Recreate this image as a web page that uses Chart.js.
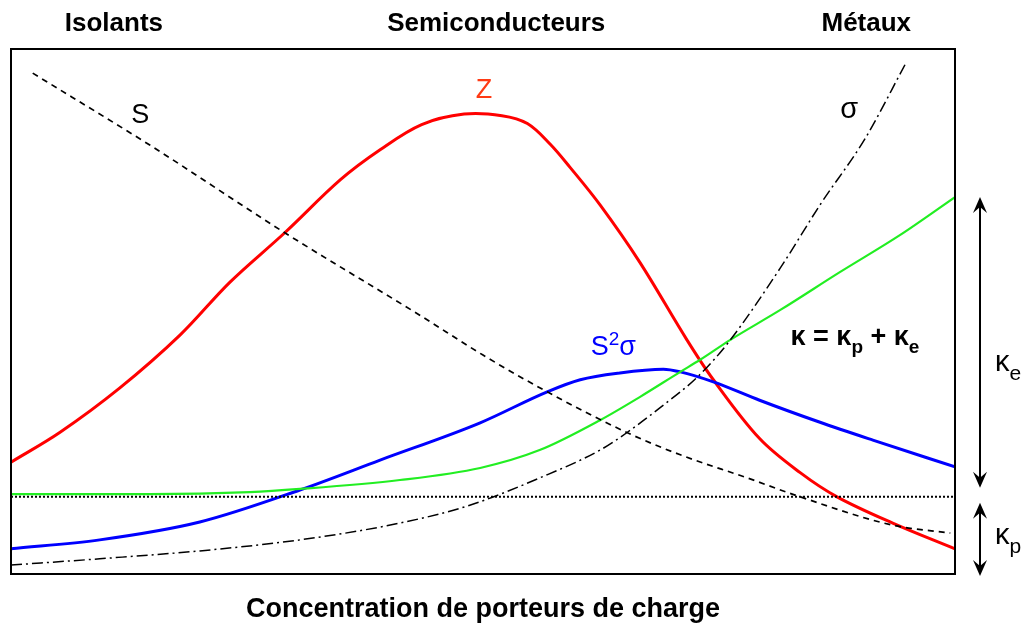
<!DOCTYPE html>
<html>
<head>
<meta charset="utf-8">
<script src="https://cdn.jsdelivr.net/npm/chart.js@4/dist/chart.umd.min.js"></script>
<style>
  html, body { margin: 0; padding: 0; background: #fff; }
  #wrap { width: 1027px; height: 627px; position: relative; }
</style>
</head>
<body>
<div id="wrap"><canvas id="c"></canvas></div>
<script>
// Thermoelectric properties vs carrier concentration (schematic).
// X = concentration (0..100 arbitrary), Y = arbitrary magnitude (0..100).

const REGIONS = ['Isolants', 'Semiconducteurs', 'Métaux'];
const X_TITLE = 'Concentration de porteurs de charge';

// Seebeck coefficient S (dashed)
const S_X = [2.3, 14.7, 29.0, 43.3, 50.0, 56.8, 65.3, 70.9, 78.0, 83.6, 93.4, 99.5];
const S_Y = [95.4, 81.7, 65.0, 49.3, 41.7, 34.7, 26.9, 22.7, 18.3, 14.7, 9.3, 7.8];

// Figure of merit Z (red)
const Z_X = [0, 5.2, 11.5, 17.9, 23.2, 29.0, 34.9, 39.1, 43.5, 48.0, 52.0, 54.7, 57.1, 59.2, 62.4, 66.6, 71.6, 74.4, 79.3, 83.6, 87.5, 93.4, 100];
const Z_Y = [21.3, 27.0, 35.4, 45.5, 55.6, 65.0, 75.1, 80.8, 85.6, 87.6, 87.3, 85.8, 81.9, 77.5, 70.3, 59.4, 44.6, 37.0, 25.8, 19.3, 14.7, 9.7, 4.8];

// Electrical conductivity sigma (dash-dot)
const SIG_X = [0, 9.4, 20.0, 30.6, 41.2, 48.6, 56.0, 62.4, 65.3, 68.7, 72.7, 75.9, 81.5, 85.7, 90.5, 94.7];
const SIG_Y = [1.7, 2.9, 4.4, 6.5, 9.7, 13.1, 18.3, 23.6, 27.0, 31.6, 37.5, 43.9, 58.3, 70.3, 83.0, 97.0];

// Power factor S^2 sigma (blue)
const PF_X = [0, 9.4, 20.0, 30.6, 39.1, 49.7, 56.8, 60.3, 64.5, 69.1, 70.9, 74.4, 79.3, 85.7, 91.3, 100];
const PF_Y = [4.8, 6.5, 9.9, 16.0, 21.7, 28.8, 34.7, 37.0, 38.3, 39.0, 38.5, 36.6, 33.1, 28.9, 25.5, 20.4];

// Thermal conductivity kappa = kappa_p + kappa_e (green)
const K_X = [0, 14.7, 25.3, 30.6, 41.2, 49.7, 56.0, 62.4, 66.6, 70.9, 73.0, 76.2, 81.5, 87.8, 94.2, 100];
const K_Y = [15.2, 15.2, 15.6, 16.2, 17.9, 20.2, 23.6, 29.3, 33.7, 38.5, 40.8, 44.6, 50.3, 57.5, 64.6, 71.8];

// Lattice thermal conductivity kappa_p (dotted, constant)
const KP_X = [0, 100];
const KP_Y = [14.7, 14.7];

const pts = (xs, ys) => xs.map((x, i) => ({ x, y: ys[i] }));

function line(xs, ys, color, width, dash, smooth) {
  const ds = {
    data: pts(xs, ys),
    borderColor: color,
    borderWidth: width,
    borderDash: dash || [],
    pointRadius: 0,
    fill: false,
  };
  if (smooth) ds.tension = smooth;
  else ds.cubicInterpolationMode = 'monotone';
  return ds;
}

// Text drawn in data coordinates; parts = [text, 'n'|'sub'|'sup']
const LABELS = [
  { x: 13.7, y: 87.7, color: '#000', bold: false, size: 27, parts: [['S', 'n']] },
  { x: 50.1, y: 92.5, color: '#ff3a14', bold: false, size: 27, parts: [['Z', 'n']] },
  { x: 88.8, y: 88.8, color: '#000', bold: false, size: 29, parts: [['σ', 'n']] },
  { x: 63.8, y: 43.6, color: '#0000ff', bold: false, size: 27, parts: [['S', 'n'], ['2', 'sup'], ['σ', 'n']] },
  { x: 89.4, y: 45.5, color: '#000', bold: true, size: 27,
    parts: [['κ = κ', 'n'], ['p', 'sub'], [' + κ', 'n'], ['e', 'sub']] },
];

function drawParts(ctx, cx, cy, lab) {
  const w = lab.bold ? 'bold ' : '';
  const big = `${w}${lab.size}px "Liberation Sans", Arial, sans-serif`;
  const small = `${w}${Math.round(lab.size * 0.72)}px "Liberation Sans", Arial, sans-serif`;
  let total = 0;
  for (const [t, k] of lab.parts) {
    ctx.font = k === 'n' ? big : small;
    total += ctx.measureText(t).width;
  }
  let x = cx - total / 2;
  ctx.fillStyle = lab.color;
  ctx.textBaseline = 'alphabetic';
  ctx.textAlign = 'left';
  const base = cy + lab.size * 0.36;
  for (const [t, k] of lab.parts) {
    ctx.font = k === 'n' ? big : small;
    let y = base;
    if (k === 'sub') y = base + lab.size * 0.3;
    if (k === 'sup') y = base - lab.size * 0.38;
    ctx.fillText(t, x, y);
    x += ctx.measureText(t).width;
  }
}

function arrow(ctx, x, y1, y2) {
  const h = 16, hw = 7;
  ctx.save();
  ctx.strokeStyle = '#000';
  ctx.fillStyle = '#000';
  ctx.lineWidth = 2;
  ctx.beginPath();
  ctx.moveTo(x, y1 + 6);
  ctx.lineTo(x, y2 - 6);
  ctx.stroke();
  ctx.beginPath();
  ctx.moveTo(x, y1); ctx.lineTo(x - hw, y1 + h); ctx.lineTo(x, y1 + h - 6); ctx.lineTo(x + hw, y1 + h);
  ctx.closePath(); ctx.fill();
  ctx.beginPath();
  ctx.moveTo(x, y2); ctx.lineTo(x - hw, y2 - h); ctx.lineTo(x, y2 - h + 6); ctx.lineTo(x + hw, y2 - h);
  ctx.closePath(); ctx.fill();
  ctx.restore();
}

const decor = {
  id: 'decor',
  afterDraw(chart) {
    const { ctx, chartArea: a, scales: { x, y } } = chart;
    ctx.save();
    // frame
    ctx.strokeStyle = '#000';
    ctx.lineWidth = 2;
    ctx.strokeRect(a.left, a.top, a.right - a.left, a.bottom - a.top);

    // region headings
    ctx.fillStyle = '#000';
    ctx.textBaseline = 'middle';
    ctx.textAlign = 'center';
    ctx.font = 'bold 26px "Liberation Sans", Arial, sans-serif';
    const hx = [10.9, 51.4, 90.6];
    REGIONS.forEach((t, i) => ctx.fillText(t, x.getPixelForValue(hx[i]), 24));
    ctx.font = 'bold 27px "Liberation Sans", Arial, sans-serif';
    ctx.fillText(X_TITLE, x.getPixelForValue(50), 610);

    LABELS.forEach(l => drawParts(ctx, x.getPixelForValue(l.x), y.getPixelForValue(l.y), l));

    // kappa_e / kappa_p arrows on the right
    const ax = a.right + 25;
    const yTop = y.getPixelForValue(K_Y[K_Y.length - 1]);
    const yMid = y.getPixelForValue(KP_Y[0]);
    arrow(ctx, ax, yTop, yMid - 9);
    arrow(ctx, ax, yMid + 6, a.bottom + 2);
    drawParts(ctx, ax + 28, (yTop + yMid) / 2 + 14, { color: '#000', bold: false, size: 29, parts: [['κ', 'n'], ['e', 'sub']] });
    drawParts(ctx, ax + 28, (yMid + a.bottom) / 2 - 2, { color: '#000', bold: false, size: 29, parts: [['κ', 'n'], ['p', 'sub']] });
    ctx.restore();
  },
};

new Chart(document.getElementById('c'), {
  type: 'line',
  data: {
    datasets: [
      line(KP_X, KP_Y, '#000', 2, [2, 2]),
      line(S_X, S_Y, '#000', 1.7, [6, 5]),
      line(SIG_X, SIG_Y, '#000', 1.5, [11, 4, 2, 4]),
      line(K_X, K_Y, '#22ee22', 2.2),
      line(PF_X, PF_Y, '#0000ff', 3),
      line(Z_X, Z_Y, '#ff0000', 3, null, 0.35),
    ],
  },
  options: {
    responsive: true,
    maintainAspectRatio: false,
    animation: false,
    layout: { padding: { left: 11, top: 49, right: 72, bottom: 53 } },
    plugins: { legend: { display: false }, tooltip: { enabled: false } },
    scales: {
      x: { type: 'linear', min: 0, max: 100, display: false },
      y: { type: 'linear', min: 0, max: 100, display: false },
    },
  },
  plugins: [decor],
});
</script>
</body>
</html>
